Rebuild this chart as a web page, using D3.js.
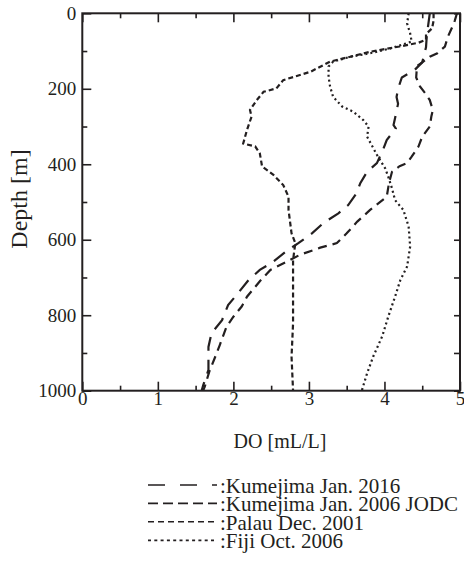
<!DOCTYPE html>
<html><head><meta charset="utf-8">
<script src="https://cdn.jsdelivr.net/npm/d3@7/dist/d3.min.js"></script>
<style>body{margin:0;background:#fff}svg{display:block}</style>
</head><body><svg id="c" width="464" height="572"></svg>
<script>
// ---- data (DO [mL/L], depth [m]) ----
const xTicks = [0, 1, 2, 3, 4, 5];
const xMinorTicks = [0.5, 1.5, 2.5, 3.5, 4.5];
const yTicks = [0, 200, 400, 600, 800, 1000];
const yMinorTicks = [100, 300, 500, 700, 900];
const legendLabels = [":Kumejima Jan. 2016", ":Kumejima Jan. 2006 JODC", ":Palau Dec. 2001", ":Fiji Oct. 2006"];

const kumejima2016 = [[4.6,0],[4.58,30],[4.56,60],[4.55,90],[4.5,130],[4.4,150],[4.23,170],[4.18,200],[4.16,222],[4.18,240],[4.14,278],[4.12,296],[4.15,305],[4.03,336],[3.98,362],[3.9,397],[3.77,420],[3.68,450],[3.63,477],[3.52,508],[3.39,530],[3.19,556],[3.04,583],[2.86,609],[2.69,632],[2.53,658],[2.35,680],[2.2,707],[2.06,742],[1.93,773],[1.85,813],[1.71,848],[1.67,884],[1.67,945],[1.6,986],[1.58,1000]];
const kumejima2006 = [[4.96,0],[4.93,20],[4.9,35],[4.84,62],[4.8,88],[4.7,106],[4.6,115],[4.5,130],[4.43,140],[4.42,170],[4.47,194],[4.54,212],[4.6,230],[4.64,256],[4.62,274],[4.6,300],[4.5,327],[4.45,353],[4.36,380],[4.3,397],[4.2,405],[4.1,420],[4.06,450],[4.03,486],[3.81,521],[3.64,552],[3.5,583],[3.37,609],[3.15,621],[2.88,640],[2.71,658],[2.49,680],[2.35,710],[2.18,751],[2.11,777],[2.0,804],[1.91,830],[1.82,879],[1.76,910],[1.68,950],[1.62,990],[1.6,1000]];
const palau2001 = [[4.65,0],[4.65,20],[4.63,40],[4.55,55],[4.55,70],[4.45,78],[4.2,88],[4.0,95],[3.81,102],[3.55,115],[3.28,128],[3.02,155],[2.66,177],[2.57,199],[2.4,208],[2.31,230],[2.22,256],[2.24,274],[2.18,309],[2.13,345],[2.29,353],[2.35,371],[2.38,406],[2.53,428],[2.66,455],[2.73,486],[2.73,521],[2.77,583],[2.82,609],[2.79,654],[2.79,726],[2.79,822],[2.77,910],[2.79,1000]];
const fiji2006 = [[4.32,0],[4.3,27],[4.34,53],[4.36,75],[4.08,93],[3.81,106],[3.55,115],[3.32,128],[3.26,141],[3.26,168],[3.28,194],[3.32,221],[3.44,247],[3.59,261],[3.72,283],[3.79,300],[3.77,327],[3.83,349],[3.9,375],[4.01,411],[4.05,433],[4.1,464],[4.14,495],[4.25,521],[4.32,565],[4.34,618],[4.3,671],[4.21,707],[4.14,751],[4.05,804],[3.97,856],[3.85,910],[3.77,954],[3.7,1000]];

const seriesData = [kumejima2016, kumejima2006, palau2001, fiji2006];
const plotDash = ["14,9", "9,6", "5,3", "2,3"];
const legendDash = ["17,15", "10,5", "6,4", "3,3.3"];

// ---- drawing ----
const ink = "#231f20";
const font = "'Liberation Serif','Times New Roman',Times,serif";
const svg = d3.select("#c");
const L = 82.3, R = 460, T = 13.3, B = 390.7;
const x = d3.scaleLinear().domain([0, 5]).range([L, R]);
const y = d3.scaleLinear().domain([0, 1000]).range([T, B]);

function styleAxis(g) {
  g.select(".domain").remove();
  g.selectAll("line").attr("stroke", ink).attr("stroke-width", 1.6);
  g.selectAll("text").attr("fill", ink).style("font-family", font).style("font-size", "19px");
}

// bottom
svg.append("g").attr("transform", `translate(0,${B})`)
  .call(d3.axisBottom(x).tickValues(xTicks).tickSize(-9).tickPadding(1).tickFormat(d3.format("d"))).call(styleAxis);
svg.append("g").attr("transform", `translate(0,${B})`)
  .call(d3.axisBottom(x).tickValues(xMinorTicks).tickSize(-5).tickFormat("")).call(styleAxis);
// top
svg.append("g").attr("transform", `translate(0,${T})`)
  .call(d3.axisTop(x).tickValues(xTicks).tickSize(-9).tickFormat("")).call(styleAxis);
svg.append("g").attr("transform", `translate(0,${T})`)
  .call(d3.axisTop(x).tickValues(xMinorTicks).tickSize(-5).tickFormat("")).call(styleAxis);
// left
svg.append("g").attr("transform", `translate(${L},0)`)
  .call(d3.axisLeft(y).tickValues(yTicks).tickSize(-9).tickPadding(6).tickFormat(d3.format("d"))).call(styleAxis);
svg.append("g").attr("transform", `translate(${L},0)`)
  .call(d3.axisLeft(y).tickValues(yMinorTicks).tickSize(-5).tickFormat("")).call(styleAxis);
// right
svg.append("g").attr("transform", `translate(${R},0)`)
  .call(d3.axisRight(y).tickValues(yTicks.concat(yMinorTicks)).tickSize(-6).tickFormat("")).call(styleAxis);

// frame
svg.append("rect").attr("x", L).attr("y", T).attr("width", R - L).attr("height", B - T)
  .attr("fill", "none").attr("stroke", ink).attr("stroke-width", 2);

// curves
const line = d3.line().x(d => x(d[0])).y(d => y(d[1]));
seriesData.forEach((s, i) => {
  svg.append("path").datum(s).attr("d", line)
    .attr("fill", "none").attr("stroke", ink).attr("stroke-width", 2.2)
    .attr("stroke-dasharray", plotDash[i]);
});

// axis titles
svg.append("text").attr("x", 280).attr("y", 448).attr("text-anchor", "middle")
  .attr("fill", ink).style("font-family", font).style("font-size", "20px").text("DO [mL/L]");
svg.append("text").attr("transform", "translate(27,199) rotate(-90)").attr("text-anchor", "middle")
  .attr("fill", ink).style("font-family", font).style("font-size", "24px").text("Depth [m]");

// legend
const legY = [485, 503.4, 521.8, 540.4];
legendLabels.forEach((lab, i) => {
  svg.append("line").attr("x1", 148).attr("x2", 217).attr("y1", legY[i]).attr("y2", legY[i])
    .attr("stroke", ink).attr("stroke-width", 1.6).attr("stroke-dasharray", legendDash[i]);
  svg.append("text").attr("x", 220).attr("y", legY[i] + 8)
    .attr("fill", ink).style("font-family", font).style("font-size", "21px").text(lab);
});
</script></body></html>
